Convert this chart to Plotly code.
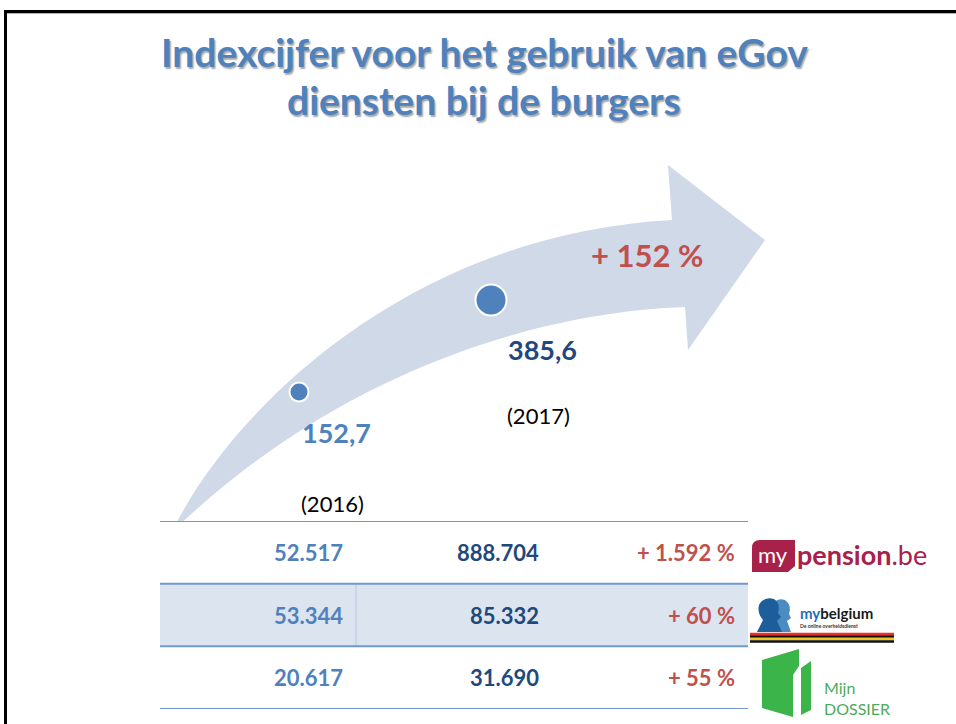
import plotly.graph_objects as go

W, H = 956, 724

# ---------------- data ----------------
title_lines = ["Indexcijfer voor het gebruik van eGov", "diensten bij de burgers"]
years = [2016, 2017]
index_values = [152.7, 385.6]
index_labels = ["152,7", "385,6"]
year_labels = ["(2016)", "(2017)"]
growth_label = "+ 152 %"

table_2016 = ["52.517", "53.344", "20.617"]
table_2017 = ["888.704", "85.332", "31.690"]
table_growth = ["+ 1.592 %", "+ 60 %", "+ 55 %"]

# ---------------- styles ----------------
BLUE = "#4F81BD"
NAVY = "#1F497D"
RED = "#C0504D"
ARROW = "#D0D9E8"
LINE = "#7098CE"
SHADE = "#DCE4F0"
FONT = "Lato"

marker_sizes = [19, 31]
label_colors = [BLUE, NAVY]
label_offsets = [(1, -40), (15, -49)]     # px (x, y) from point
year_offsets = [(0, -111), (14, -115)]

# pixel placement of the two points (used to derive the hidden axis ranges)
px_pts = [(299, 392), (491, 300)]
ppy = (px_pts[1][0] - px_pts[0][0]) / (years[1] - years[0])
x0 = years[0] - px_pts[0][0] / ppy
x1 = x0 + W / ppy
vpp = (index_values[1] - index_values[0]) / (px_pts[0][1] - px_pts[1][1])
ytop = index_values[1] + px_pts[1][1] * vpp
ybot = ytop - H * vpp


def P(x, y):
    return f"{x / W:.5f},{1 - y / H:.5f}"


def px(x):
    return x / W


def py(y):
    return 1 - y / H


def A(**kw):
    d = dict(showarrow=False, xanchor="center", yanchor="middle")
    d.update(kw)
    return d


fig = go.Figure()

# points
fig.add_trace(go.Scatter(
    x=years, y=index_values, mode="markers",
    marker=dict(size=marker_sizes, color=BLUE, opacity=1, line=dict(color="white", width=2)),
    hoverinfo="skip", xaxis="x", yaxis="y"))

shapes = []
ann = []

# frame
shapes.append(dict(type="line", xref="paper", yref="paper", x0=px(5.5), x1=px(5.5), y0=py(10), y1=py(724),
                   line=dict(color="black", width=3)))
shapes.append(dict(type="line", xref="paper", yref="paper", x0=px(4), x1=px(956), y0=py(11.5), y1=py(11.5),
                   line=dict(color="black", width=3)))
shapes.append(dict(type="line", xref="paper", yref="paper", x0=px(7), x1=px(956), y0=py(13.5), y1=py(13.5),
                   line=dict(color="#B0B0B0", width=1)))

# arrow
arrow_path = (f"M{P(172,532)} C{P(225,420)} {P(400,235)} {P(672,220)} "
              f"L{P(668,165)} L{P(765,240)} L{P(688,350)} L{P(685,307)} "
              f"C{P(540,312)} {P(340,370)} {P(172,532)} Z")
shapes.append(dict(type="path", path=arrow_path, xref="paper", yref="paper",
                   fillcolor=ARROW, line=dict(width=0), layer="below"))

# title (with text shadow)
for i, t in enumerate(title_lines):
    yy = [52, 100][i]
    ann.append(A(text=f"<b>{t}</b>", xref="paper", yref="paper", x=px(484), y=py(yy),
                 font=dict(family=FONT, size=39, color=BLUE,
                           shadow="1.5px 1.5px 1.5px rgba(60,60,60,0.45)")))

# point labels
for i in range(len(years)):
    ann.append(A(text=f"<b>{index_labels[i]}</b>", x=years[i], y=index_values[i], xref="x", yref="y",
                 xanchor="left", xshift=label_offsets[i][0], yshift=label_offsets[i][1],
                 font=dict(family=FONT, size=27, color=label_colors[i])))
    ann.append(A(text=year_labels[i], x=years[i], y=index_values[i], xref="x", yref="y",
                 xanchor="left", xshift=year_offsets[i][0], yshift=year_offsets[i][1],
                 font=dict(family=FONT, size=22, color="black")))

ann.append(A(text=f"<b>{growth_label}</b>", xref="paper", yref="paper", x=px(647), y=py(255),
             font=dict(family=FONT, size=31, color=RED)))

# table (x2/y2: columns 0..2, rows 0..2)
nrows = len(table_2016)
shapes.append(dict(type="rect", xref="x2", yref="y2", x0=0, x1=3, y0=0.5, y1=1.5,
                   fillcolor=SHADE, line=dict(width=0), layer="below"))
shapes.append(dict(type="line", xref="x2", yref="y2", x0=1, x1=1, y0=0.5, y1=1.5,
                   line=dict(color="#B7C9E4", width=1), layer="below"))
for b in range(nrows + 1):
    shapes.append(dict(type="line", xref="x2", yref="y2", x0=0, x1=3, y0=b - 0.5, y1=b - 0.5,
                       line=dict(color=LINE, width=2)))
cols = [(table_2016, BLUE), (table_2017, NAVY), (table_growth, RED)]
for c, (vals, col) in enumerate(cols):
    for r, v in enumerate(vals):
        ann.append(A(text=f"<b>{v}</b>", x=c + 1, y=r, xref="x2", yref="y2", xanchor="right",
                     xshift=-11, font=dict(family=FONT, size=22, color=col)))

# ---- logos ----
CRIMSON = "#A8214A"
# mypension
shapes.append(dict(type="path", xref="paper", yref="paper", fillcolor=CRIMSON, line=dict(width=0),
                   path=f"M{P(752,548)} Q{P(752,540)} {P(760,540)} L{P(795,540)} L{P(795,566)} "
                        f"L{P(788,572)} L{P(752,572)} Z"))
ann.append(A(text="my", xref="paper", yref="paper", x=px(773), y=py(554),
             font=dict(family=FONT, size=22, color="white")))
ann.append(A(text="<b>pension</b>.be", xref="paper", yref="paper", x=px(795), y=py(554), xanchor="left",
             font=dict(family=FONT, size=27, color=CRIMSON)))

# mybelgium silhouettes
shapes.append(dict(type="path", xref="paper", yref="paper", fillcolor="#4A8CC2", line=dict(width=0),
                   path=f"M{P(772,632)} L{P(776,620)} Q{P(770,614)} {P(772,606)} Q{P(776,597)} {P(785,600)} "
                        f"Q{P(792,605)} {P(789,614)} L{P(791,618)} L{P(787,621)} L{P(791,632)} Z"))
shapes.append(dict(type="path", xref="paper", yref="paper", fillcolor="#1B5E9B", line=dict(width=0),
                   path=f"M{P(757,632)} L{P(763,620)} Q{P(757,613)} {P(759,605)} Q{P(764,596)} {P(774,599)} "
                        f"Q{P(781,604)} {P(778,613)} L{P(781,617)} L{P(777,621)} L{P(782,632)} Z"))
ann.append(A(text="<b><span style='color:#1F6FB5'>my</span>belgium</b>", xref="paper", yref="paper",
             x=px(798), y=py(613), xanchor="left",
             font=dict(family=FONT, size=15, color="#1A1A1A")))
ann.append(A(text="<b>De online overheidsdienst</b>", xref="paper", yref="paper",
             x=px(798), y=py(626), xanchor="left",
             font=dict(family=FONT, size=5, color="#333333")))
for yy, cc in [(634, "#E8312F"), (636.5, "#111111"), (639, "#F2C21B"), (641.5, "#111111")]:
    shapes.append(dict(type="line", xref="paper", yref="paper", x0=px(750), x1=px(894), y0=py(yy), y1=py(yy),
                       line=dict(color=cc, width=2.5)))

# Mijn DOSSIER
GREEN = "#3BB44A"
shapes.append(dict(type="path", xref="paper", yref="paper", fillcolor=GREEN, line=dict(width=0),
                   path=f"M{P(762,660)} L{P(799,649)} L{P(799,666)} L{P(793,675)} L{P(793,717)} L{P(762,708)} Z"))
shapes.append(dict(type="path", xref="paper", yref="paper", fillcolor=GREEN, line=dict(width=0),
                   path=f"M{P(801,668)} L{P(811,661)} L{P(811,710)} L{P(801,715)} Z"))
ann.append(A(text="Mijn<br>DOSSIER", xref="paper", yref="paper", x=px(822), y=py(698), xanchor="left",
             align="left", font=dict(family=FONT, size=16, color="#4DAA5E")))

fig.update_layout(
    width=W, height=H, margin=dict(l=0, r=0, t=0, b=0),
    paper_bgcolor="white", plot_bgcolor="white", showlegend=False,
    xaxis=dict(domain=[0, 1], range=[x0, x1], visible=False, fixedrange=True),
    yaxis=dict(domain=[0, 1], range=[ybot, ytop], visible=False, fixedrange=True),
    xaxis2=dict(domain=[160 / W, 748 / W], range=[0, 3], visible=False, anchor="y2", fixedrange=True),
    yaxis2=dict(domain=[1 - 709 / H, 1 - 521 / H], range=[nrows - 0.5, -0.5], visible=False,
                anchor="x2", fixedrange=True),
    shapes=shapes, annotations=ann,
)

fig.write_html("out.html", config={"displayModeBar": False},
               post_script="document.body.style.margin='0';document.body.style.overflow='hidden';")
